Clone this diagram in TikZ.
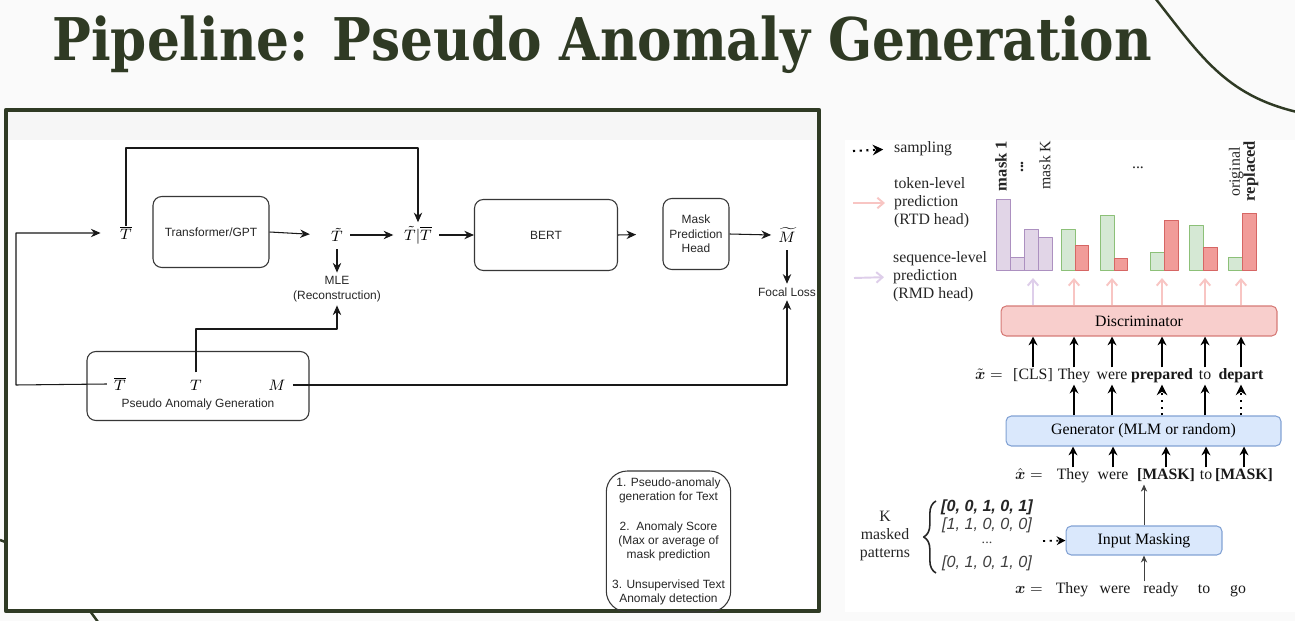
\RequirePackage{fix-cm}
\documentclass[tikz,border=0pt]{standalone}
\usepackage{amsmath,amsbsy}
\usepackage{fontspec}
\setmainfont{Liberation Serif}
\setsansfont{Liberation Sans}
\newfontfamily\titlefont{DejaVu Serif}
\usetikzlibrary{arrows.meta,decorations.pathreplacing}

\definecolor{slidegreen}{RGB}{47,58,36}
\definecolor{slidebg}{RGB}{250,250,250}
\definecolor{stripbg}{RGB}{246,246,246}
\definecolor{boxline}{RGB}{55,55,55}
\definecolor{rtdpink}{RGB}{248,197,195}
\definecolor{rmdlav}{RGB}{222,206,234}
\definecolor{discfill}{RGB}{248,206,204}
\definecolor{discline}{RGB}{214,122,118}
\definecolor{genfill}{RGB}{218,232,252}
\definecolor{genline}{RGB}{130,162,212}
\definecolor{purpfill}{RGB}{225,213,231}
\definecolor{purpline}{RGB}{172,144,192}
\definecolor{grnfill}{RGB}{213,232,212}
\definecolor{grnline}{RGB}{140,192,120}
\definecolor{redfill}{RGB}{241,156,153}
\definecolor{redline}{RGB}{214,102,100}

\tikzset{
  blk/.style={draw=boxline, line width=0.6pt, rounded corners=5pt, align=center,
    font=\sffamily\fontsize{6.8}{8.2}\selectfont, text=black!85},
  lbl/.style={inner sep=4pt, font=\fontsize{8.6}{10}\selectfont},
  stxt/.style={inner sep=2pt, align=center, font=\sffamily\fontsize{6.8}{8.2}\selectfont, text=black!85},
  arr/.style={draw=black!90, line width=0.6pt, -{Stealth[length=5.5pt,width=4.8pt]}},
  rtxt/.style={inner sep=1pt, align=left, font=\fontsize{9}{10.3}\selectfont, text=black!85},
  tok/.style={inner sep=0.5pt, text height=6.4pt, text depth=2pt, font=\fontsize{9}{10.3}\selectfont, text=black!90},
  uparr/.style={draw=black, line width=1pt, -{Stealth[length=5pt,width=5pt]}},
  dotarr/.style={draw=black, line width=1.2pt, dash pattern=on 1.2pt off 2.6pt, -{Stealth[length=6pt,width=6pt]}},
  grayarr/.style={draw=black!75, line width=0.5pt, -{Stealth[length=4pt,width=3.6pt]}},
  rtdarr/.style={draw=rtdpink, line width=1.1pt, -{Straight Barb[length=3.5pt,width=6pt]}},
  rmdarr/.style={draw=rmdlav, line width=1.1pt, -{Straight Barb[length=3.5pt,width=6pt]}},
  rmdbar/.style={fill=purpfill, draw=purpline, line width=0.5pt},
  origbar/.style={fill=grnfill, draw=grnline, line width=0.5pt},
  repbar/.style={fill=redfill, draw=redline, line width=0.5pt},
}

\begin{document}
\begin{tikzpicture}[x=0.02cm, y=-0.02cm, line join=round]
\useasboundingbox (0,0) rectangle (1295,621);
\fill[slidebg] (0,0) rectangle (1295,621);

% slide decoration
\draw[slidegreen, line width=1.4pt] (1155,-2) .. controls (1200,55) and (1225,95) .. (1297,112);
\draw[slidegreen, line width=1.4pt] (0,540) -- (8,543);
\draw[slidegreen, line width=1.4pt] (90,611) -- (98,622);

\node[anchor=base west, inner sep=0, text=slidegreen] (title) at (52,61)
  {\resizebox{22cm}{\height}{\titlefont\bfseries\fontsize{33.5}{36}\selectfont Pipeline: Pseudo Anomaly Generation}};

% left panel
\fill[white] (6,110) rectangle (819,611);
\fill[stripbg] (8,112) rectangle (817,140);
\draw[slidegreen, line width=2.6pt] (6,110) rectangle (819,611);

\node[lbl] (tbar) at (126,233) {$\overline{T}$};
\node[blk, minimum width=2.32cm, minimum height=1.42cm] (gpt) at (211,232) {Transformer/GPT};
\node[lbl] (ttil) at (337,235) {$\tilde{T}$};
\node[lbl, inner sep=2pt] (tcond) at (418,235) {$\tilde{T}|\overline{T}$};
\node[blk, minimum width=2.86cm, minimum height=1.42cm] (bert) at (546,235) {BERT};
\node[blk, minimum width=1.32cm, minimum height=1.42cm] (mph) at (696,234) {Mask\\Prediction\\Head};
\node[lbl] (mtil) at (787,235) {$\widetilde{M}$};
\node[stxt] (focal) at (787,292) {Focal Loss};
\node[stxt] (mle) at (337,289) {MLE\\(Reconstruction)};

\node[blk, minimum width=4.44cm, minimum height=1.38cm] (pag) at (198,386) {};
\node[lbl] (pagtb) at (120,384) {$\overline{T}$};
\node[lbl] (pagt) at (196,385) {$T$};
\node[lbl] (pagm) at (277,385) {$M$};
\node[stxt] (pagname) at (198,404) {Pseudo Anomaly Generation};

\node[blk, rounded corners=12pt, minimum width=2.46cm, minimum height=2.82cm] (notes) at (668.5,541.5)
  {1. Pseudo-anomaly\\generation for Text\\[8.5pt]2.\ \ Anomaly Score\\(Max or average of\\mask prediction\\[8.5pt]3. Unsupervised Text\\Anomaly detection};

\draw[arr, shorten <=-4pt] (tbar.north) -- (tbar.north |- 0,148) -| (tcond.north);
\draw[arr, shorten >=7pt] (pagtb.west) -- (16,385) |- (tbar.west);
\draw[arr, shorten >=8pt] (gpt.east) -- (ttil.west);
\draw[arr, shorten >=4pt] (ttil.east) -- (tcond.west);
\draw[arr] (ttil.south) -- (mle.north);
\draw[arr, shorten <=2pt] (tcond.east) -- (bert.west);
\draw[arr, shorten >=15pt] (bert.east) -- (mph.west);
\draw[arr] (mph.east) -- (mtil.west);
\draw[arr] (mtil.south) -- (focal.north);
\draw[arr] (pagt.north) -- (pagt.north |- 0,329) -| (mle.south);
\draw[arr] (pagm.east) -| (focal.south);

% right panel
\fill[white] (845,140) rectangle (1295,612);

\node[rtxt, anchor=west] (samp) at (892,149) {sampling};
\coordinate (sampS) at (853,151);
\draw[dotarr, shorten >=5pt] (sampS) -- (samp.west);
\node[rtxt, anchor=west] (rtd) at (892,203) {token-level\\prediction\\(RTD head)};
\coordinate (rtdS) at (853,203);
\draw[rtdarr, shorten >=4pt] (rtdS) -- (rtd.west);
\node[rtxt, anchor=west] (rmd) at (891,277) {sequence-level\\prediction\\(RMD head)};
\coordinate (rmdS) at (854,278);
\draw[rmdarr, shorten >=4pt] (rmdS) -- (rmd.west);

% bars
\foreach \xa/\xb/\ytop/\kind in {996.7/1010.7/199.3/rmdbar, 1010.7/1024.3/257.7/rmdbar,
    1024.3/1038.7/229.3/rmdbar, 1038.7/1052.3/237.3/rmdbar,
    1061/1075.3/229.3/origbar, 1075.3/1088.7/245/repbar,
    1100/1114/215.3/origbar, 1114/1127.7/258.3/repbar,
    1150.7/1164/252/origbar, 1164/1178.7/220.7/repbar,
    1189/1203.3/225.3/origbar, 1203.3/1217.7/247.3/repbar,
    1228.7/1242/257.7/origbar, 1242/1256.7/213.3/repbar}
  \draw[\kind] (\xa,270) rectangle (\xb,\ytop);

\node[rtxt, rotate=90, font=\bfseries\fontsize{9.4}{10}\selectfont] (m1) at (1001,166) {mask 1};
\node[rtxt, rotate=90, font=\bfseries\fontsize{9}{10}\selectfont] (mdots) at (1022,167) {...};
\node[rtxt, rotate=90] (mk) at (1045,165) {mask K};
\node[rtxt] (hdots) at (1138,168) {...};
\node[rtxt, rotate=90] (orig) at (1236,172) {original};
\node[rtxt, rotate=90, font=\bfseries\fontsize{9.4}{10}\selectfont] (repl) at (1251,171) {replaced};

\node[draw=discline, fill=discfill, line width=0.6pt, rounded corners=3pt, minimum width=5.52cm, minimum height=0.6cm,
  font=\fontsize{9}{10}\selectfont] (disc) at (1139,321) {Discriminator};

% x tilde
\node[tok] (xteq) at (989,376) {$\tilde{\boldsymbol{x}} =$};
\node[tok] (cls) at (1033,376) {[CLS]};
\node[tok] (they2) at (1074,376) {They};
\node[tok] (were2) at (1112,376) {were};
\node[tok] (prep) at (1162,376) {\textbf{prepared}};
\node[tok] (to2) at (1205,376) {to};
\node[tok] (dep) at (1241,376) {\textbf{depart}};

\foreach \t in {cls,they2,were2,prep,to2,dep}
  \draw[uparr] (\t.north) -- (\t.north |- disc.south);
\draw[rmdarr] (cls.north |- disc.north) -- (cls.north |- 0,278);
\foreach \t in {they2,were2,prep,to2,dep}
  \draw[rtdarr] (\t.north |- disc.north) -- (\t.north |- 0,278);

\node[draw=genline, fill=genfill, line width=0.6pt, rounded corners=3pt, minimum width=5.5cm, minimum height=0.6cm,
  font=\fontsize{9}{10}\selectfont] (gen) at (1143.5,431) {Generator (MLM or random)};

\foreach \t in {they2,were2,to2}
  \draw[uparr] (\t.south |- gen.north) -- (\t.south);
\foreach \t in {prep,dep}
  \draw[dotarr] (\t.south |- gen.north) -- (\t.south);

% x hat
\node[tok] (xheq) at (1029,476) {$\hat{\boldsymbol{x}} =$};
\node[tok] (they1) at (1073,476) {They};
\node[tok] (were1) at (1113,476) {were};
\node[tok] (mask1) at (1166,476) {\textbf{[MASK]}};
\node[tok] (to1) at (1206,476) {to};
\node[tok] (mask2) at (1244,476) {\textbf{[MASK]}};

\foreach \t in {they1,were1,mask1,to1,mask2}
  \draw[uparr] (\t.north) -- (\t.north |- gen.south);

\node[draw=genline, fill=genfill, line width=0.6pt, rounded corners=3pt, minimum width=3.12cm, minimum height=0.58cm,
  font=\fontsize{9}{10}\selectfont] (inmask) at (1144,540.5) {Input Masking};

% x
\node[tok] (xeq) at (1029,590) {$\boldsymbol{x} =$};
\node[tok] (they0) at (1072,590) {They};
\node[tok] (were0) at (1115,590) {were};
\node[tok] (ready0) at (1161,590) {ready};
\node[tok] (to0) at (1204,590) {to};
\node[tok] (go0) at (1238,590) {go};

\draw[grayarr] (inmask.south |- ready0.north) -- (inmask.south);
\draw[grayarr] (inmask.north) -- (inmask.north |- mask1.south);

% masked patterns
\node[inner sep=1pt, font=\sffamily\itshape\bfseries\fontsize{9.2}{10}\selectfont, text=black!85] (pat1) at (987,507) {[0, 0, 1, 0, 1]};
\node[inner sep=1pt, font=\sffamily\itshape\fontsize{9.2}{10}\selectfont, text=black!75] (pat2) at (987,525) {[1, 1, 0, 0, 0]};
\node[inner sep=1pt, font=\fontsize{8}{9}\selectfont, text=black!75] (patdots) at (987,543) {...};
\node[inner sep=1pt, font=\sffamily\itshape\fontsize{9.2}{10}\selectfont, text=black!75] (pat4) at (987,563) {[0, 1, 0, 1, 0]};
\draw[black!85, line width=0.9pt, decorate, decoration={brace, amplitude=7pt}] (936,573) -- (936,501);
\node[rtxt, align=center] (kmask) at (885,536) {K\\masked\\patterns};
\coordinate (patS) at (1043,541);
\draw[dotarr, line width=1pt, -{Stealth[length=5pt,width=5pt]}] (patS) -- (inmask.west);
\end{tikzpicture}
\end{document}
